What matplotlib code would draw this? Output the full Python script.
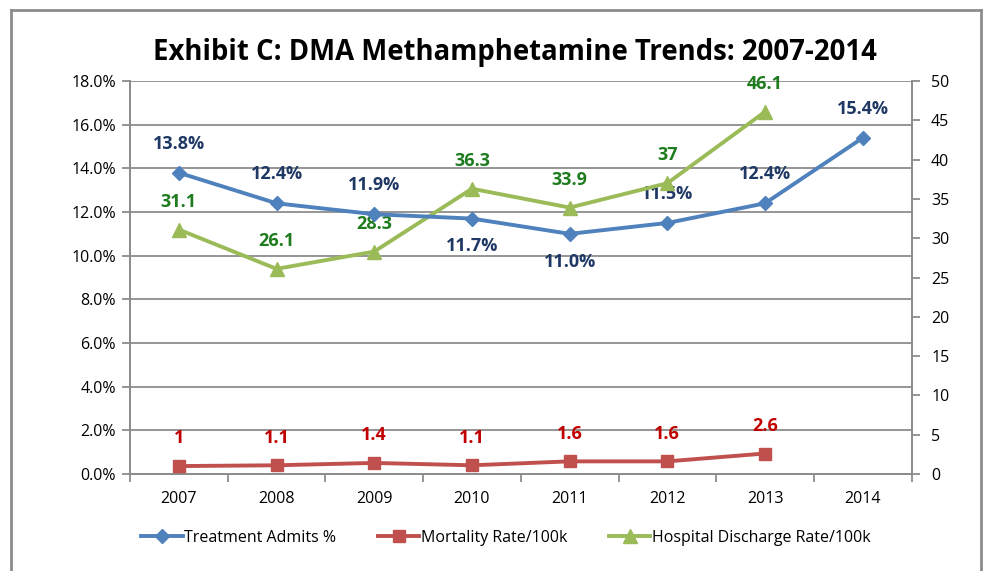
import matplotlib.pyplot as plt
from matplotlib.lines import Line2D
from matplotlib.ticker import FuncFormatter, MultipleLocator

plt.rcParams['font.family'] = ['Open Sans', 'DejaVu Sans']

years = ['2007', '2008', '2009', '2010', '2011', '2012', '2013', '2014']
treatment_pct = [13.8, 12.4, 11.9, 11.7, 11.0, 11.5, 12.4, 15.4]
mortality = [1, 1.1, 1.4, 1.1, 1.6, 1.6, 2.6]
discharge = [31.1, 26.1, 28.3, 36.3, 33.9, 37, 46.1]
treatment_below = [False, False, False, True, True, False, False, False]

blue, red, green = '#4F81BD', '#C0504D', '#9BBB59'
blue_txt, red_txt, green_txt = '#1F3864', '#C00000', '#1E7B1E'
grey = '#8C8C8C'

fig = plt.figure(figsize=(9.92, 5.71), dpi=100)

# outer chart frame
frame = dict(color=grey, lw=2, transform=fig.transFigure, clip_on=False)
fig.add_artist(Line2D([0.011, 0.011], [0.983, -0.01], **frame))
fig.add_artist(Line2D([0.011, 0.989], [0.983, 0.983], **frame))
fig.add_artist(Line2D([0.989, 0.989], [0.983, -0.01], **frame))

ax = fig.add_axes([0.131, 0.170, 0.788, 0.688])
ax2 = ax.twinx()

x = list(range(len(years)))
ax.set_xlim(-0.5, len(years) - 0.5)
ax.set_ylim(0, 18)
ax2.set_ylim(0, 50)

ax.yaxis.set_major_locator(MultipleLocator(2))
ax.yaxis.set_major_formatter(FuncFormatter(lambda v, p: f'{v:.1f}%'))
ax2.yaxis.set_major_locator(MultipleLocator(5))
ax.grid(axis='y', color=grey, lw=1.3)
ax.set_axisbelow(True)

ax.set_xticks(x)
ax.set_xticklabels(years)
ax.set_xticks([i - 0.5 for i in range(len(years) + 1)], minor=True)
ax.tick_params(axis='x', which='major', length=0, pad=12, labelsize=11.5)
ax.tick_params(axis='x', which='minor', length=6, color=grey, width=1.3)
ax.tick_params(axis='y', length=6, color=grey, width=1.3, labelsize=11.5, pad=4)
ax2.tick_params(axis='y', length=6, color=grey, width=1.3, labelsize=11.5, pad=8)

for a in (ax, ax2):
    a.spines['top'].set_visible(False)
    for s in ('left', 'right', 'bottom'):
        a.spines[s].set_color(grey)
        a.spines[s].set_linewidth(1.3)

ax2.plot(x[:len(mortality)], mortality, color=red, lw=2.8, marker='s',
         ms=9, zorder=3, label='Mortality Rate/100k')
ax2.plot(x[:len(discharge)], discharge, color=green, lw=2.8, marker='^',
         ms=10, zorder=3, label='Hospital Discharge Rate/100k')
ax2.plot([x[i] for i in range(len(treatment_pct))],
         [v / 18 * 50 for v in treatment_pct], color=blue, lw=2.8, marker='D',
         ms=7, zorder=4, label='Treatment Admits %')

lab = dict(ha='center', fontsize=13, fontweight='bold')
for i, v in enumerate(treatment_pct):
    off = -20 if treatment_below[i] else 21
    ax.annotate(f'{v:.1f}%', (x[i], v), xytext=(0, off), textcoords='offset points',
                va='center', color=blue_txt, **lab)
for i, v in enumerate(discharge):
    ax2.annotate(f'{v:g}', (x[i], v), xytext=(0, 20), textcoords='offset points',
                 va='center', color=green_txt, **lab)
for i, v in enumerate(mortality):
    ax2.annotate(f'{v:g}', (x[i], v), xytext=(0, 20), textcoords='offset points',
                 va='center', color=red_txt, **lab)

fig.text(0.519, 0.908, 'Exhibit C: DMA Methamphetamine Trends: 2007-2014',
         ha='center', va='center', fontsize=19.8, fontweight='bold')

handles = [
    Line2D([], [], color=blue, lw=2.8, marker='D', ms=7),
    Line2D([], [], color=red, lw=2.8, marker='s', ms=9),
    Line2D([], [], color=green, lw=2.8, marker='^', ms=10),
]
fig.legend(handles, ['Treatment Admits %', 'Mortality Rate/100k',
                     'Hospital Discharge Rate/100k'],
           loc='center', bbox_to_anchor=(0.51, 0.058), ncol=3, frameon=False,
           fontsize=11.5, handlelength=2.6, handletextpad=0.1, columnspacing=2.6)

fig.savefig('out.png', dpi=100)
